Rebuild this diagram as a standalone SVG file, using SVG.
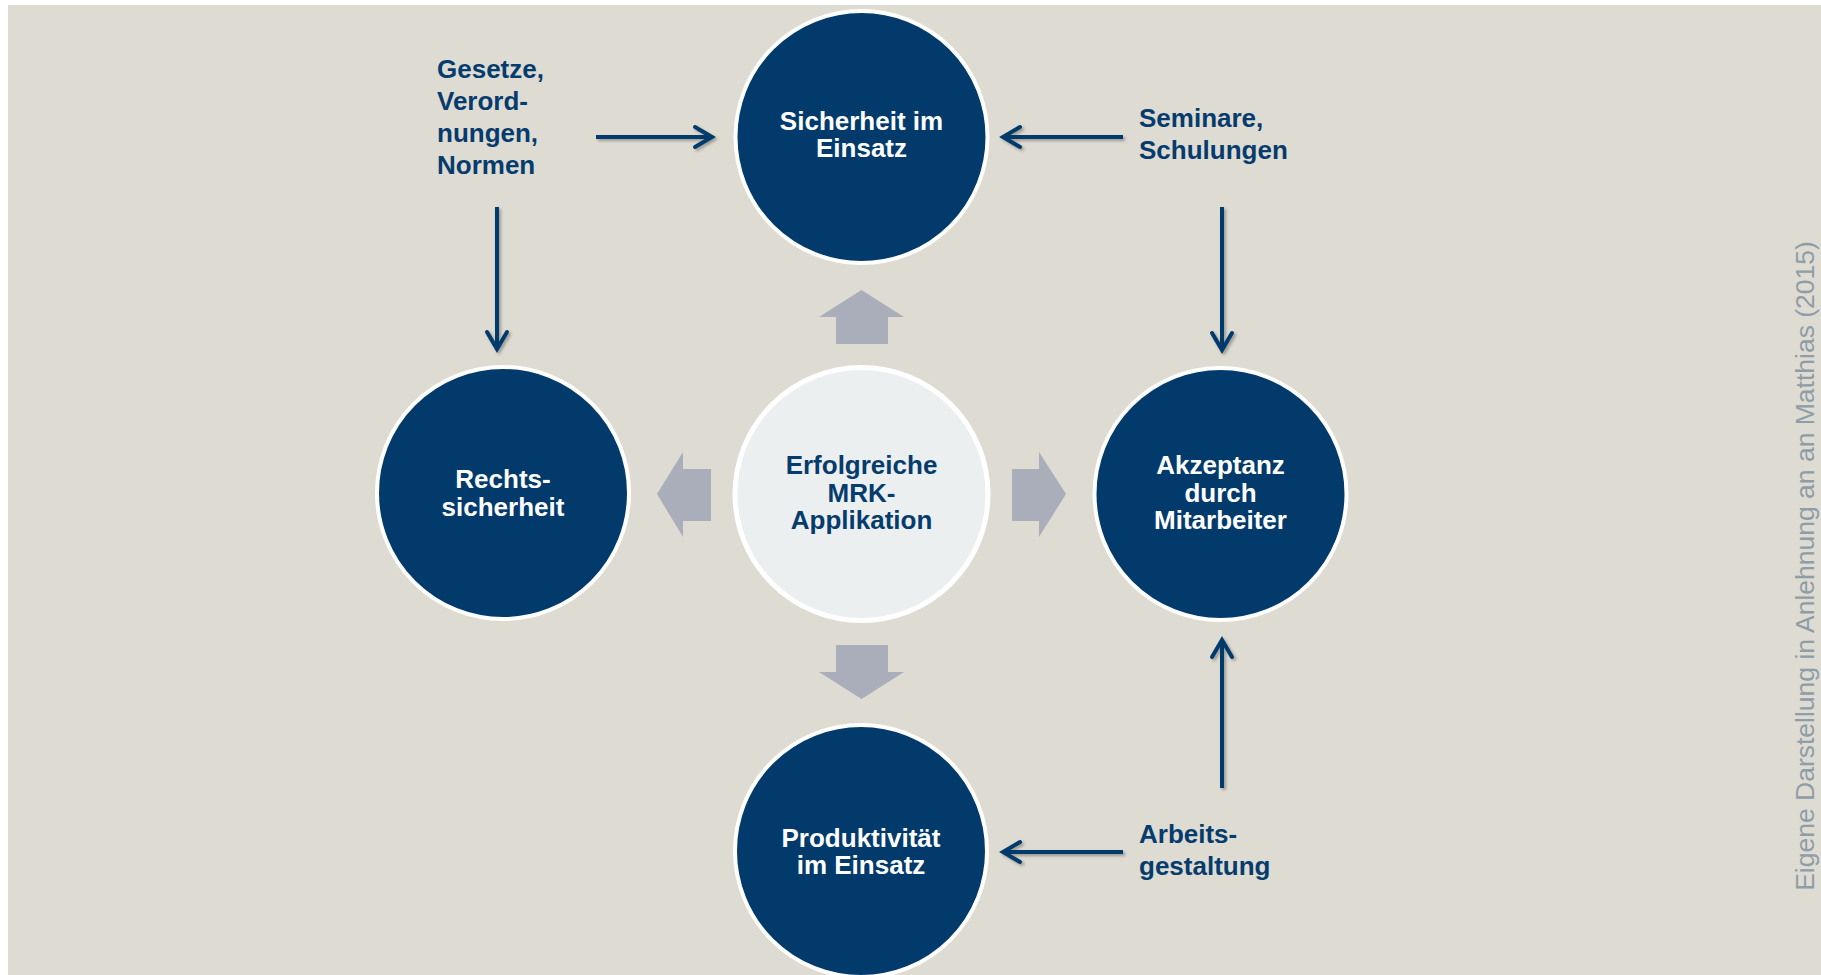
<svg xmlns="http://www.w3.org/2000/svg" width="1821" height="975" viewBox="0 0 1821 975">
  <style>
    .bg { fill: #DEDBD3; }
    .node-dark { fill: #023A6C; stroke: #FFFFFF; stroke-width: 4; }
    .node-light { fill: #ECEFF0; stroke: #FFFFFF; stroke-width: 5; }
    .t-white { font-family: "Liberation Sans", Arial, sans-serif; font-weight: bold; font-size: 26px; fill: #FFFFFF; text-anchor: middle; }
    .t-blue-c { font-family: "Liberation Sans", Arial, sans-serif; font-weight: bold; font-size: 26px; fill: #063B6D; text-anchor: middle; }
    .t-blue { font-family: "Liberation Sans", Arial, sans-serif; font-weight: bold; font-size: 26px; fill: #063B6D; }
    .conn { fill: none; stroke: #023A6C; stroke-width: 4; }
    .block { fill: #A9AEBA; }
    .source { font-family: "Liberation Sans", Arial, sans-serif; font-size: 26.5px; fill: #8E9DA6; text-anchor: middle; }
  </style>
  <defs>
    <filter id="shadow" x="-20%" y="-20%" width="140%" height="140%">
      <feDropShadow dx="2" dy="2" stdDeviation="1.5" flood-color="#000000" flood-opacity="0.3"/>
    </filter>
    <marker id="chev" viewBox="-22 -13 26 26" refX="0" refY="0" markerWidth="26" markerHeight="26" markerUnits="userSpaceOnUse" orient="auto">
      <path d="M -17 -10 L 0 0 L -17 10" fill="none" stroke="#023A6C" stroke-width="4" stroke-linecap="round" stroke-linejoin="miter"/>
    </marker>
  </defs>

  <rect x="0" y="0" width="1821" height="975" fill="#FFFFFF"/>
  <rect class="bg" x="8" y="5" width="1813" height="970"/>

  <g id="connectors" filter="url(#shadow)">
    <line class="conn" x1="596" y1="137" x2="712" y2="137" marker-end="url(#chev)"/>
    <line class="conn" x1="1123" y1="137" x2="1003" y2="137" marker-end="url(#chev)"/>
    <line class="conn" x1="497" y1="207" x2="497" y2="349" marker-end="url(#chev)"/>
    <line class="conn" x1="1222" y1="207" x2="1222" y2="350" marker-end="url(#chev)"/>
    <line class="conn" x1="1222" y1="788" x2="1222" y2="640" marker-end="url(#chev)"/>
    <line class="conn" x1="1123" y1="852" x2="1003" y2="852" marker-end="url(#chev)"/>
  </g>

  <g id="block-arrows">
    <polygon class="block" points="861.5,290 904,317 888,317 888,344 836,344 836,317 819,317"/>
    <polygon class="block" points="861.5,699 904,672 888,672 888,645 836,645 836,672 819,672"/>
    <polygon class="block" points="657,494 683,452 683,469 711,469 711,521 683,521 683,537"/>
    <polygon class="block" points="1066,494 1039,452 1039,469 1012,469 1012,521 1039,521 1039,537"/>
  </g>

  <g id="node-top">
    <circle class="node-dark" cx="861.5" cy="137" r="126"/>
    <text class="t-white" x="861.5" y="130">Sicherheit im</text>
    <text class="t-white" x="861.5" y="157">Einsatz</text>
  </g>

  <g id="node-left">
    <circle class="node-dark" cx="503" cy="493" r="126"/>
    <text class="t-white" x="503" y="488">Rechts-</text>
    <text class="t-white" x="503" y="516">sicherheit</text>
  </g>

  <g id="node-center">
    <circle class="node-light" cx="861.5" cy="494" r="126.5"/>
    <text class="t-blue-c" x="861.5" y="474">Erfolgreiche</text>
    <text class="t-blue-c" x="861.5" y="502">MRK-</text>
    <text class="t-blue-c" x="861.5" y="529">Applikation</text>
  </g>

  <g id="node-right">
    <circle class="node-dark" cx="1220.5" cy="494" r="126"/>
    <text class="t-white" x="1220.5" y="474">Akzeptanz</text>
    <text class="t-white" x="1220.5" y="502">durch</text>
    <text class="t-white" x="1220.5" y="529">Mitarbeiter</text>
  </g>

  <g id="node-bottom">
    <circle class="node-dark" cx="861" cy="851" r="126"/>
    <text class="t-white" x="861" y="847">Produktivität</text>
    <text class="t-white" x="861" y="874">im Einsatz</text>
  </g>

  <g id="label-gesetze">
    <text class="t-blue" x="437" y="78">Gesetze,</text>
    <text class="t-blue" x="437" y="110">Verord-</text>
    <text class="t-blue" x="437" y="142">nungen,</text>
    <text class="t-blue" x="437" y="174">Normen</text>
  </g>

  <g id="label-seminare">
    <text class="t-blue" x="1139" y="127">Seminare,</text>
    <text class="t-blue" x="1139" y="159">Schulungen</text>
  </g>

  <g id="label-arbeit">
    <text class="t-blue" x="1139" y="843">Arbeits-</text>
    <text class="t-blue" x="1139" y="875">gestaltung</text>
  </g>

  <text class="source" transform="translate(1814,566) rotate(-90)" x="0" y="0">Eigene Darstellung in Anlehnung an an Matthias (2015)</text>
</svg>
